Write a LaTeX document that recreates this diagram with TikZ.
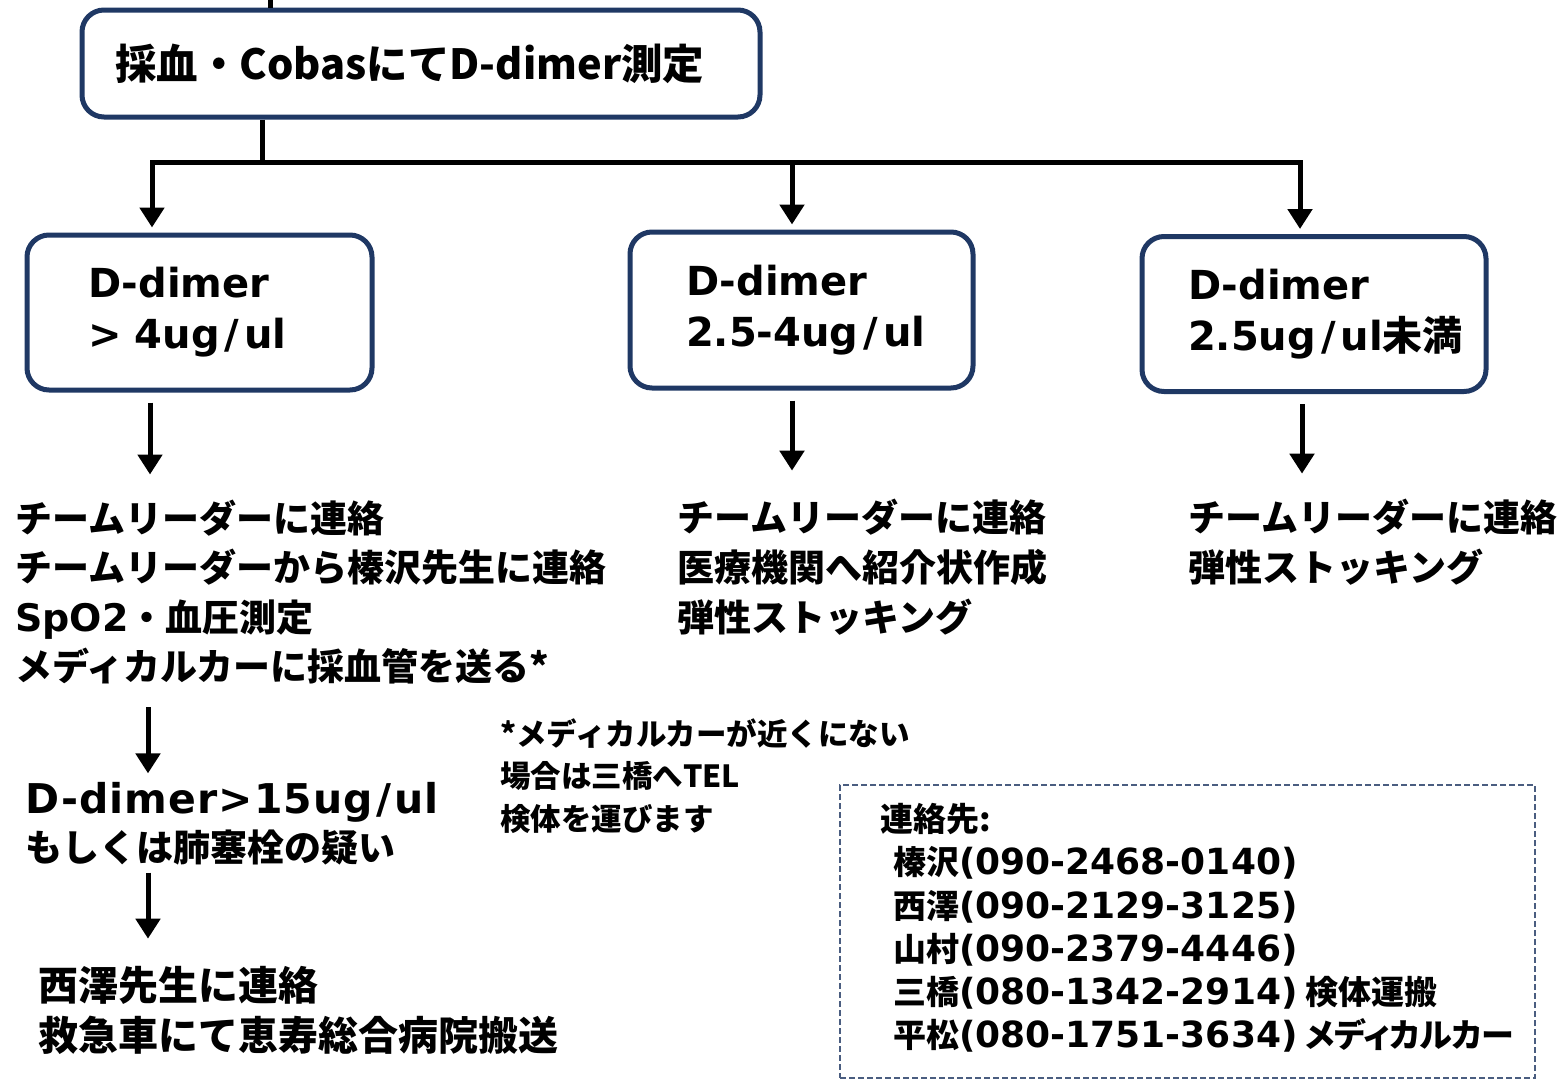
\documentclass[tikz,border=0pt]{standalone}
\usepackage{fontspec}
\setmainfont{DejaVu Sans}
\newfontfamily\jp{Noto Sans CJK JP}
\newfontfamily\lt{DejaVu Sans}
\usetikzlibrary{arrows.meta}
\exhyphenpenalty=10000
\hyphenpenalty=10000
\definecolor{navy}{HTML}{1F3864}
\definecolor{dashc}{HTML}{4A5D80}
\newcommand{\myslash}{\kern5pt/\kern5pt}
\newcommand{\nmb}[1]{{\lt\bfseries\fontsize{36}{43.2}\selectfont #1}}
\begin{document}
\begin{tikzpicture}[x=1pt,y=-1pt,
  box/.style={draw=navy, line width=5pt, rounded corners=22pt, align=left, inner ysep=0pt, fill=white},
  conn/.style={line width=5pt, draw=black},
  tipend/.style={-{Triangle[width=24pt,length=20pt]}},
  jtext/.style={inner sep=0pt, anchor=west, align=left},
]
\useasboundingbox[fill=white] (0,0) rectangle (1567,1080);

% boxes
\node[box, text width=612pt, inner xsep=33pt, minimum height=107pt,
  font=\jp\bfseries\fontsize{41.5}{50}\selectfont] (top) at (421,63.5) {採血・CobasにてD-dimer測定};
\node[box, text width=223pt, inner xsep=61pt, minimum height=155pt,
  font=\lt\bfseries\fontsize{40}{51}\selectfont] (b1) at (199.5,312.5) {D-dimer\\> 4ug\myslash ul};
\node[box, text width=231pt, inner xsep=56pt, minimum height=156pt,
  font=\lt\bfseries\fontsize{40}{51}\selectfont] (b2) at (801.5,310) {D-dimer\\2.5-4ug\myslash ul};
\node[box, text width=252pt, inner xsep=46pt, minimum height=155pt,
  font=\lt\bfseries\fontsize{40}{51}\selectfont] (b3) at (1314,314) {D-dimer\\2.5ug\myslash ul{\jp\bfseries 未満}};

% text blocks
\node[jtext, font=\jp\bfseries\fontsize{37}{49.5}\selectfont] (t1) at (15,592)
  {チームリーダーに連絡\\チームリーダーから榛沢先生に連絡\\{\lt\bfseries\fontsize{38}{49.5}\selectfont SpO2}・血圧測定\\メディカルカーに採血管を送る*};
\node[jtext, font=\jp\bfseries\fontsize{37}{50}\selectfont] (t2) at (677,567)
  {チームリーダーに連絡\\医療機関へ紹介状作成\\弾性ストッキング};
\node[jtext, font=\jp\bfseries\fontsize{37}{50}\selectfont] (t3) at (1188,542)
  {チームリーダーに連絡\\弾性ストッキング};
\node[jtext, font=\jp\bfseries\fontsize{37}{48}\selectfont] (t4) at (25,824)
  {{\lt\bfseries\fontsize{41}{48}\selectfont\addfontfeature{LetterSpace=2.7}D-dimer>15ug\kern3pt/\kern3pt ul}\\もしくは肺塞栓の疑い};
\node[jtext, font=\jp\bfseries\fontsize{40}{50}\selectfont] (t5) at (38,1010)
  {西澤先生に連絡\\救急車にて恵寿総合病院搬送};
\node[jtext, font=\jp\bfseries\fontsize{30.5}{42.5}\selectfont] (note) at (500,776)
  {*メディカルカーが近くにない\\場合は三橋へTEL\\検体を運びます};

% contact box
\node[draw=dashc, dash pattern=on 6pt off 3pt, line width=2pt, minimum width=695pt,
  minimum height=293pt, inner sep=0pt] (cbox) at (1187.5,931.5) {};
\node[jtext, font=\jp\bfseries\fontsize{33}{43.2}\selectfont] (contact) at (880,928)
  {連絡先:\\
   \hspace*{13pt}榛沢\nmb{(090-2468-0140)}\\
   \hspace*{13pt}西澤\nmb{(090-2129-3125)}\\
   \hspace*{13pt}山村\nmb{(090-2379-4446)}\\
   \hspace*{13pt}三橋\nmb{(080-1342-2914)} 検体運搬\\
   \hspace*{13pt}平松\nmb{(080-1751-3634)} {\addfontfeature{RawFeature=+palt}メディカルカー}};

% connector coordinates
\coordinate (in) at (270,0);
\coordinate (j) at (262,162);
\coordinate (c1) at (152,162);
\coordinate (c2) at (792,162);
\coordinate (c3) at (1300,162);
\coordinate (x1) at (150,450);
\coordinate (x2) at (792,450);
\coordinate (x3) at (1302,450);
\coordinate (x4) at (148,740);

% connectors
\draw[conn] (in) -- (top.north -| in);
\draw[conn] (top.south -| j) -- (j);
\draw[conn, {Triangle[width=24pt,length=20pt]}-{Triangle[width=24pt,length=20pt]}, shorten <=5pt, shorten >=5pt]
  (b1.north -| c1) -- (c1) -- (c3) -- (b3.north -| c3);
\draw[conn, tipend, shorten >=5pt] (c2) -- (b2.north -| c2);
\draw[conn, tipend, shorten <=10pt, shorten >=25pt] (b1.south -| x1) -- (t1.north -| x1);
\draw[conn, tipend, shorten <=10pt, shorten >=28pt] (b2.south -| x2) -- (t2.north -| x2);
\draw[conn, tipend, shorten <=10pt, shorten >=25pt] (b3.south -| x3) -- (t3.north -| x3);
\draw[conn, tipend, shorten <=23pt, shorten >=9pt] (t1.south -| x4) -- (t4.north -| x4);
\draw[conn, tipend, shorten <=7pt, shorten >=27pt] (t4.south -| x4) -- (t5.north -| x4);
\end{tikzpicture}
\end{document}
